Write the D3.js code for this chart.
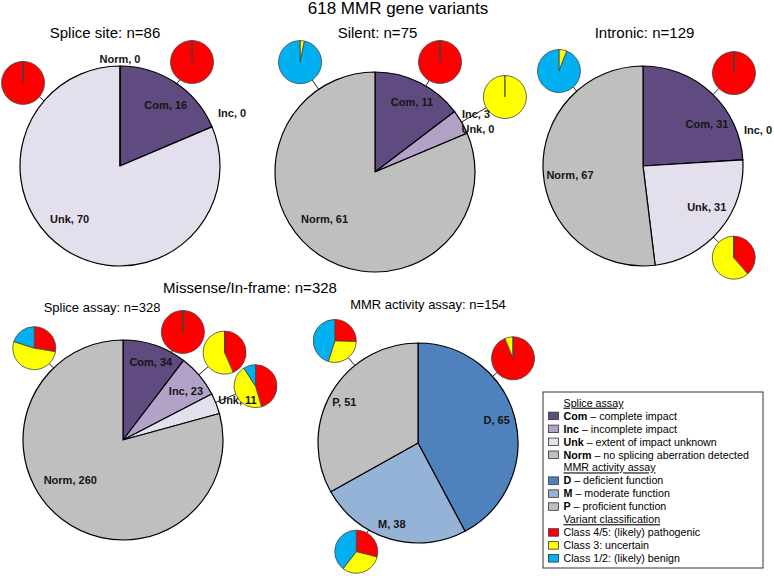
<!DOCTYPE html>
<html>
<head>
<meta charset="utf-8">
<script src="https://d3js.org/d3.v7.min.js"></script>
<style>
body { margin: 0; background: #fff; }
svg { display: block; font-family: Arial, "Liberation Sans", sans-serif; }
</style>
</head>
<body>
<svg id="chart" width="774" height="576"></svg>
<script>
/** categories */
var spliceCats = ["Com", "Inc", "Unk", "Norm"];
var spliceDesc = ["complete impact", "incomplete impact", "extent of impact unknown", "no splicing aberration detected"];
var mmrCats = ["D", "M", "P"];
var mmrDesc = ["deficient function", "moderate function", "proficient function"];
var classLabels = ["Class 4/5: (likely) pathogenic", "Class 3: uncertain", "Class 1/2: (likely) benign"];

/** main pie counts */
var spliceSiteCounts = [16, 0, 70, 0];
var silentCounts = [11, 3, 0, 61];
var intronicCounts = [31, 0, 31, 67];
var missenseSpliceCounts = [34, 23, 11, 260];
var mmrActivityCounts = [65, 38, 51];

/** classification per slice: [class 4/5, class 3, class 1/2] (null = no inset pie) */
var spliceSiteClasses = [[16, 0, 0], null, [70, 0, 0], null];
var silentClasses = [[11, 0, 0], [0, 3, 0], null, [0, 2, 59]];
var intronicClasses = [[31, 0, 0], null, [12, 19, 0], [0, 4, 63]];
var missenseClasses = [[34, 0, 0], [10, 13, 0], [5, 5, 1], [72, 136, 52]];
var mmrClasses = [[61, 4, 0], [11, 12, 15], [13, 15, 23]];

/** colours */
var spliceColors = ["#5f4b7f", "#b3a2c7", "#e4dfec", "#bfbfbf"];
var mmrColors = ["#4f81bd", "#95b3d7", "#bfbfbf"];
var classColors = ["#ff0000", "#ffff00", "#00b0f0"];

/** layout: [angle deg clockwise from 12 o'clock, distance from centre] */
var panels = [
    { title: "Splice site: n=86", tx: 105, ty: 38, ts: 15, cx: 120, cy: 166,
      counts: spliceSiteCounts, cats: spliceCats, colors: spliceColors, classes: spliceSiteClasses,
      labelPos: [[37, 76], [64.7, 124], [223.6, 73], [0, 107]],
      insetPos: [[34.7, 126.5], null, [310.6, 127.7], null] },
    { title: "Silent: n=75", tx: 377.5, ty: 38, ts: 15, cx: 375, cy: 172,
      counts: silentCounts, cats: spliceCats, colors: spliceColors, classes: silentClasses,
      labelPos: [[27.9, 79], [60.1, 116.5], [67.3, 111.6], [227, 69]],
      insetPos: [[30.6, 127.8], [60, 150], null, [325.7, 133]] },
    { title: "Intronic: n=129", tx: 644.5, ty: 38, ts: 15, cx: 643, cy: 166,
      counts: intronicCounts, cats: spliceCats, colors: spliceColors, classes: intronicClasses,
      labelPos: [[56.7, 76.6], [72.6, 120.5], [122.8, 75.8], [263, 73.6]],
      insetPos: [[44.4, 130], null, [135.3, 129], [318.5, 126.8]] },
    { title: "Splice assay: n=328", tx: 102, ty: 312, ts: 13, cx: 123, cy: 440,
      counts: missenseSpliceCounts, cats: spliceCats, colors: spliceColors, classes: missenseClasses,
      labelPos: [[19.6, 82.8], [52.1, 79.8], [70.7, 121.3], [232.8, 66.2]],
      insetPos: [[29, 123.5], [49.3, 134], [67.9, 143], [316, 127.7]] },
    { title: "MMR activity assay: n=154", tx: 428, ty: 309, ts: 13, cx: 418, cy: 443,
      counts: mmrActivityCounts, cats: mmrCats, colors: mmrColors, classes: mmrClasses,
      labelPos: [[73.7, 82], [198, 84.9], [299.1, 84.3]],
      insetPos: [[48.3, 127.3], [209.6, 125], [320.8, 131.7]] }
];

var R = 100, rs = 21.5;
var svg = d3.select("#chart");

svg.append("text").attr("x", 398).attr("y", 14).attr("text-anchor", "middle")
    .attr("font-size", 17).text("618 MMR gene variants");
svg.append("text").attr("x", 250).attr("y", 293).attr("text-anchor", "middle")
    .attr("font-size", 15).text("Missense/In-frame: n=328");

var pie = d3.pie().sort(null).value(function (d) { return d; });
var bigArc = d3.arc().innerRadius(0).outerRadius(R);
var smallArc = d3.arc().innerRadius(0).outerRadius(rs);

function polar(a, d) {
    var t = a * Math.PI / 180;
    return [d * Math.sin(t), -d * Math.cos(t)];
}

panels.forEach(function (p) {
    svg.append("text").attr("x", p.tx).attr("y", p.ty).attr("text-anchor", "middle")
        .attr("font-size", p.ts).text(p.title);

    var g = svg.append("g").attr("transform", "translate(" + p.cx + "," + p.cy + ")");

    // connector lines first, under pies
    p.insetPos.forEach(function (pos, i) {
        if (!pos || !p.classes[i]) return;
        var a = polar(pos[0], R), b = polar(pos[0], pos[1] - rs);
        g.append("line").attr("x1", a[0]).attr("y1", a[1]).attr("x2", b[0]).attr("y2", b[1])
            .attr("stroke", "#222").attr("stroke-width", 1);
    });

    g.selectAll("path.slice").data(pie(p.counts)).join("path")
        .attr("class", "slice")
        .attr("d", bigArc)
        .attr("fill", function (d, i) { return p.colors[i]; })
        .attr("stroke", "#000").attr("stroke-width", 1.2).attr("stroke-linejoin", "round");

    // inset classification pies
    p.classes.forEach(function (cl, i) {
        if (!cl) return;
        var c = polar(p.insetPos[i][0], p.insetPos[i][1]);
        var sg = g.append("g").attr("transform", "translate(" + c[0] + "," + c[1] + ")");
        sg.selectAll("path").data(pie(cl)).join("path")
            .attr("d", smallArc)
            .attr("fill", function (d, j) { return classColors[j]; })
            .attr("stroke", "#444").attr("stroke-width", 0.8);
    });

    // slice labels on top
    g.selectAll("text.lab").data(p.counts).join("text")
        .attr("class", "lab")
        .attr("x", function (d, i) { return polar(p.labelPos[i][0], p.labelPos[i][1])[0]; })
        .attr("y", function (d, i) { return polar(p.labelPos[i][0], p.labelPos[i][1])[1] + 4; })
        .attr("text-anchor", "middle").attr("font-size", 11).attr("font-weight", "bold")
        .attr("fill", "#151515")
        .text(function (d, i) { return p.cats[i] + ", " + d; });
});

/** legend */
var legendRows = [{ head: "Splice assay" }];
spliceCats.forEach(function (c, i) { legendRows.push({ key: c, desc: spliceDesc[i], color: spliceColors[i] }); });
legendRows.push({ head: "MMR activity assay" });
mmrCats.forEach(function (c, i) { legendRows.push({ key: c, desc: mmrDesc[i], color: mmrColors[i] }); });
legendRows.push({ head: "Variant classification" });
classLabels.forEach(function (c, i) { legendRows.push({ plain: c, color: classColors[i] }); });

var lg = svg.append("g");
lg.append("rect").attr("x", 543).attr("y", 392).attr("width", 220).attr("height", 176)
    .attr("fill", "#fff").attr("stroke", "#333").attr("stroke-width", 1);

var rowY = d3.scaleLinear().domain([0, 1]).range([406.7, 419.65]);
legendRows.forEach(function (r, i) {
    var y = rowY(i);
    if (r.head) {
        lg.append("text").attr("x", 563.5).attr("y", y).attr("font-size", 10.7)
            .attr("text-decoration", "underline").text(r.head);
        return;
    }
    lg.append("rect").attr("x", 548.5).attr("y", y - 7.5).attr("width", 10).attr("height", 7.5)
        .attr("fill", r.color).attr("stroke", "#333").attr("stroke-width", 0.8);
    var t = lg.append("text").attr("x", 563.5).attr("y", y).attr("font-size", 10.7);
    if (r.key) {
        t.append("tspan").attr("font-weight", "bold").text(r.key);
        t.append("tspan").text(" \u2013 " + r.desc);
    } else {
        t.text(r.plain);
    }
});
</script>
</body>
</html>
